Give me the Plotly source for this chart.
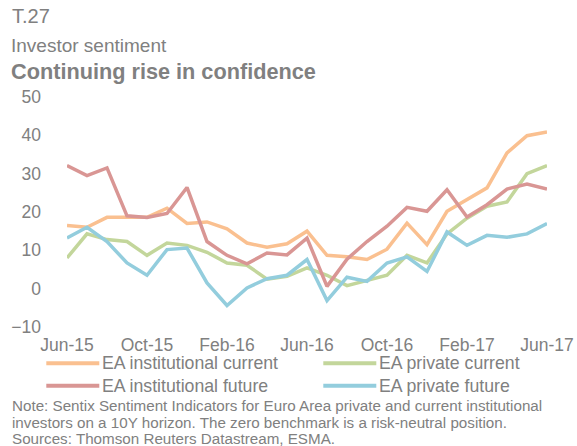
import plotly.graph_objects as go

months = ["Jun-15","Jul-15","Aug-15","Sep-15","Oct-15","Nov-15","Dec-15","Jan-16","Feb-16","Mar-16","Apr-16","May-16",
          "Jun-16","Jul-16","Aug-16","Sep-16","Oct-16","Nov-16","Dec-16","Jan-17","Feb-17","Mar-17","Apr-17","May-17","Jun-17"]
tick_labels = ["Jun-15","Oct-15","Feb-16","Jun-16","Oct-16","Feb-17","Jun-17"]

inst_current = [16.5,16.0,18.6,18.6,18.6,21.0,17.0,17.4,15.6,11.9,10.8,11.7,15.0,8.7,8.3,7.6,10.3,17.1,11.5,20.2,23.2,26.3,35.4,39.9,40.9]
priv_current = [8.0,14.3,12.8,12.3,8.7,11.9,11.3,9.5,6.7,6.1,2.5,3.2,5.4,3.5,0.8,2.2,3.5,8.7,6.7,14.3,18.4,21.5,22.6,30.0,32.1]
inst_future = [32.1,29.5,31.5,19.0,18.6,19.6,26.4,12.3,8.7,6.5,9.3,8.8,13.2,0.6,7.7,12.3,16.3,21.2,20.2,25.8,18.7,21.9,26.0,27.3,26.0]
priv_future = [13.2,16.0,12.3,6.7,3.5,10.2,10.6,1.5,-4.4,0.2,2.6,3.5,7.6,-3.1,3.0,1.9,6.7,8.3,4.5,14.8,11.3,13.9,13.4,14.3,17.0]

series_names = ["EA institutional current", "EA private current", "EA institutional future", "EA private future"]
series_values = [inst_current, priv_current, inst_future, priv_future]
colors = ["#FAC090", "#C3D69B", "#D99694", "#93CDDD"]

note_lines = [
    "Note: Sentix Sentiment Indicators for Euro Area private and current institutional",
    "investors on a 10Y horizon. The zero benchmark is a risk-neutral position.",
    "Sources: Thomson Reuters Datastream, ESMA.",
]

FONT = "Liberation Sans, Arial, sans-serif"
GRAY = "#808080"

W, H = 577, 446
L, R, T, B = 66.7, 30.3, 97, 119
pw, ph = W - L - R, H - T - B

def px(x):
    return (x - L) / pw

def py(y):
    return (H - B - y) / ph

fig = go.Figure()
for name, vals, col in zip(series_names, series_values, colors):
    fig.add_trace(go.Scatter(x=months, y=vals, name=name, mode="lines",
                             line=dict(color=col, width=3.5), showlegend=False))

fig.update_layout(
    width=W, height=H,
    margin=dict(l=L, r=R, t=T, b=B, autoexpand=False),
    paper_bgcolor="white", plot_bgcolor="white",
    font=dict(family=FONT, color=GRAY, size=17.5),
    showlegend=False,
    xaxis=dict(type="category", range=[0, 24], tickmode="array", tickvals=tick_labels, ticktext=tick_labels,
               showgrid=False, zeroline=False, showline=False, ticks="", automargin=False,
               tickfont=dict(size=17.5, color=GRAY), ticklabelstandoff=5),
    yaxis=dict(range=[-10, 50], dtick=10, showgrid=False, zeroline=False, showline=False, ticks="",
               automargin=False, tickfont=dict(size=17.5, color=GRAY), ticklabelstandoff=25),
)

# Legend (two columns)
legend_pos = [(46, 363.3), (323, 363.3), (46, 385.7), (323, 385.7)]
for (lx, ly), name, col in zip(legend_pos, series_names, colors):
    fig.add_shape(type="line", xref="paper", yref="paper", x0=px(lx), x1=px(lx + 53), y0=py(ly), y1=py(ly),
                  line=dict(color=col, width=4))
    fig.add_annotation(text=name, xref="paper", yref="paper", x=px(lx + 55), y=py(ly),
                       xanchor="left", yanchor="middle", showarrow=False, borderpad=0,
                       font=dict(size=17.7, color=GRAY, family=FONT))

titles = [
    ("T.27", 10, 3, 20),
    ("Investor sentiment", 9, 33.5, 19),
    ("<b>Continuing rise in confidence</b>", 9, 56.5, 21.7),
]
for text, x, y, size in titles:
    fig.add_annotation(text=text, xref="paper", yref="paper", x=px(x), y=py(y), xanchor="left", yanchor="top",
                       showarrow=False, font=dict(size=size, color=GRAY, family=FONT), align="left")

for i, line in enumerate(note_lines):
    fig.add_annotation(text=line, xref="paper", yref="paper", x=px(11), y=py(396 + 16.5 * i),
                       xanchor="left", yanchor="top", showarrow=False, borderpad=0,
                       font=dict(size=15.2, color=GRAY, family=FONT), align="left")

fig.write_html("out.html", post_script="document.body.style.margin='0px';",
               config={"displayModeBar": False})
